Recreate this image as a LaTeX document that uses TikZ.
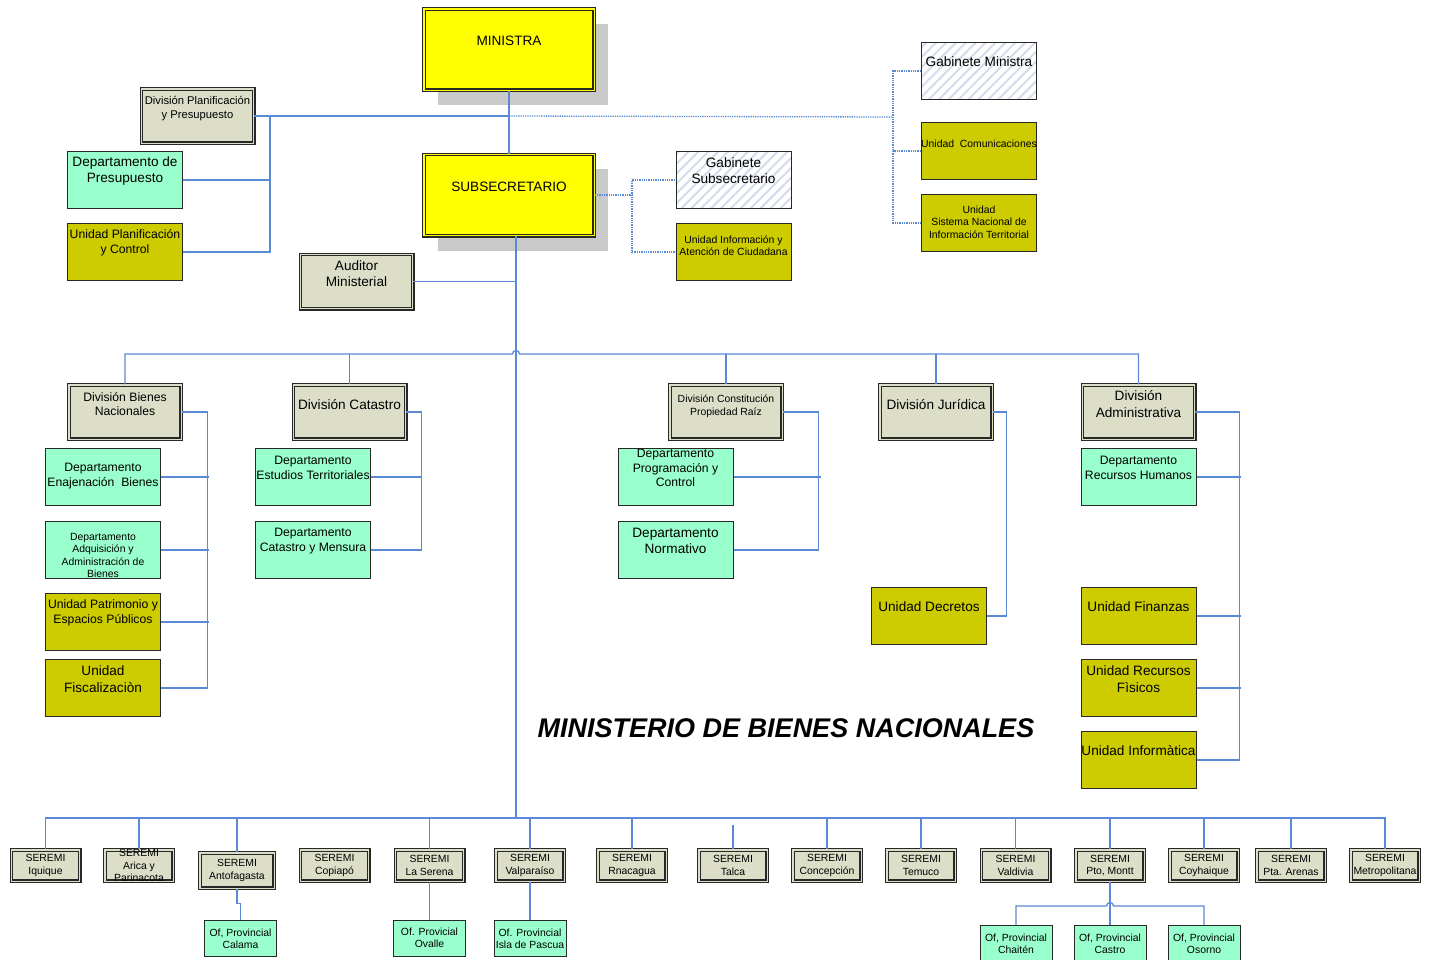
\documentclass[tikz,border=0pt]{standalone}
\usepackage{fontspec}
\setmainfont{Liberation Sans}
\usetikzlibrary{shadows,patterns.meta}

\definecolor{boxgray}{RGB}{220,222,200}
\definecolor{boxmint}{RGB}{153,255,204}
\definecolor{boxolive}{RGB}{204,204,0}
\definecolor{boxyellow}{RGB}{255,255,0}
\definecolor{linkblue}{RGB}{90,138,214}
\definecolor{hatchblue}{RGB}{212,220,236}
\definecolor{edge}{RGB}{40,40,40}

\begin{document}
\begin{tikzpicture}[x=1pt, y=-1pt,
    f10/.style={font=\fontsize{10.4}{12.3}\selectfont},
    f11/.style={font=\fontsize{11.2}{14}\selectfont},
    f12/.style={font=\fontsize{12.2}{14.5}\selectfont},
    f13/.style={font=\fontsize{13.6}{16.5}\selectfont},
    box/.style={rectangle, draw=edge, line width=1pt, minimum width=115pt, minimum height=57pt, inner sep=0pt},
    mintbox/.style={box, fill=boxmint},
    olivebox/.style={box, fill=boxolive},
    hatch/.style={box, preaction={fill=white}, pattern={Lines[angle=45, distance=7pt, line width=2pt]}, pattern color=hatchblue},
    divbox/.style={box, fill=boxgray, line width=1.1pt, double=boxgray, double distance=1.4pt, minimum width=112.4pt, minimum height=54.4pt},
    boss/.style={divbox, fill=boxyellow, double=boxyellow, minimum width=170.4pt, minimum height=81.4pt,
      drop shadow={shadow xshift=14pt, shadow yshift=-15pt, fill=black!21, opacity=1}},
    seremi/.style={divbox, minimum width=68.4pt, minimum height=31.4pt},
    ofprov/.style={mintbox, minimum width=72pt, minimum height=36pt},
    lbl/.style={align=center, anchor=center, yshift=-20pt},
    ctxt/.style={align=center, anchor=center, f10},
    link/.style={draw=linkblue, line width=1.3pt},
    dlink/.style={link, densely dotted}]

  \useasboundingbox (0,0) rectangle (1434,959);

  % autoridades
  \node[boss, label={[lbl,f13,yshift=-13pt]north:MINISTRA}] (minis) at (509,49.5) {};
  \node[boss, label={[lbl,f13,yshift=-13pt]north:SUBSECRETARIO}] (subse) at (509,195) {};
  \node[divbox, label={[lbl,f11]north:División Planificación\\y Presupuesto}] (divplan) at (197.5,116) {};
  \node[mintbox, label={[lbl,f13]north:Departamento de\\Presupuesto}] (deppres) at (125,180) {};
  \node[olivebox, label={[lbl,f12]north:Unidad Planificación\\y Control}] (uniplan) at (125,252) {};
  \node[divbox, label={[lbl,f13]north:Auditor\\Ministerial}] (auditor) at (356.5,281.5) {};
  \node[hatch, label={[lbl,f13]north:Gabinete\\Subsecretario}] (gabsub) at (733.5,180) {};
  \node[olivebox, label={[lbl,f10,yshift=-3pt]north:Unidad Información y\\Atención de Ciudadana}] (uniaten) at (733.5,252) {};
  \node[hatch, label={[lbl,f13]north:Gabinete Ministra}] (gabmin) at (979,71) {};
  \node[olivebox, label={[lbl,f10,yshift=-2pt]north:Unidad~~Comunicaciones}] (unicom) at (979,151) {};
  \node[olivebox, label={[lbl,f10,yshift=-8pt]north:Unidad\\Sistema Nacional de\\Información Territorial}] (unisnit) at (979,223) {};

  % divisiones
  \node[divbox, label={[lbl,f12]north:División Bienes\\Nacionales}] (divbn) at (125,412) {};
  \node[divbox, label={[lbl,f13]north:División Catastro}] (divcat) at (349.5,412) {};
  \node[divbox, label={[lbl,f10,yshift=-2pt]north:División Constitución\\Propiedad Raíz}] (divcpr) at (726,412) {};
  \node[divbox, label={[lbl,f13]north:División Jurídica}] (divjur) at (936,412) {};
  \node[divbox, label={[lbl,f13]north:División\\Administrativa}] (divadm) at (1138.5,412) {};

  \node[mintbox, label={[lbl,f12,yshift=-8pt]north:Departamento\\Enajenación~~Bienes}] (depena) at (103,477) {};
  \node[mintbox, label={[lbl,f10,yshift=-14.5pt]north:Departamento\\Adquisición y\\Administración de\\Bienes}] (depadq) at (103,550) {};
  \node[olivebox, label={[lbl,f12]north:Unidad Patrimonio y\\Espacios Públicos}] (unipat) at (103,622) {};
  \node[olivebox, label={[lbl,f13]north:Unidad\\Fiscalizaciòn}] (unifis) at (103,688) {};
  \node[mintbox, label={[lbl,f12]north:Departamento\\Estudios Territoriales}] (depest) at (313,477) {};
  \node[mintbox, label={[lbl,f12]north:Departamento\\Catastro y Mensura}] (depcym) at (313,550) {};
  \node[mintbox, label={[lbl,f12]north:Departamento\\Programación y\\Control}] (depprog) at (675.5,477) {};
  \node[mintbox, label={[lbl,f13]north:Departamento\\Normativo}] (depnor) at (675.5,550) {};
  \node[olivebox, label={[lbl,f13]north:Unidad Decretos}] (unidec) at (929,616) {};
  \node[mintbox, label={[lbl,f12]north:Departamento\\Recursos Humanos}] (deprh) at (1138.5,477) {};
  \node[olivebox, label={[lbl,f13]north:Unidad Finanzas}] (unifin) at (1138.5,616) {};
  \node[olivebox, label={[lbl,f13]north:Unidad Recursos\\Fìsicos}] (unirf) at (1138.5,688) {};
  \node[olivebox, label={[lbl,f13]north:Unidad Informàtica}] (uniinf) at (1138.5,760) {};

  \node[font=\bfseries\itshape\fontsize{27}{30}\selectfont] (title) at (786,728) {MINISTERIO DE BIENES NACIONALES};

  % seremis
  \foreach \n/\x/\t in {seriqu/45.5/Iquique, serari/139/{Arica y\\Parinacota}, sercop/334.5/Copiapó,
      serlas/429.5/La Serena, serval/530/Valparaíso, serran/632/Rnacagua, sertal/733/Talca,
      sercon/827/Concepción, sertem/921/Temuco, servld/1015.5/Valdivia, serpto/1110/{Pto, Montt},
      sercoy/1204/Coyhaique, serpta/1291/Pta. Arenas, sermet/1385/Metropolitana}
    \node[seremi, label={[ctxt]center:SEREMI\\\t}] (\n) at (\x,865.5) {};
  \node[seremi, minimum width=74.4pt, minimum height=35.4pt, label={[ctxt]center:SEREMI\\Antofagasta}] (serant) at (237,870.5) {};

  \node[ofprov, label={[ctxt]center:Of, Provincial\\Calama}] (ofcal) at (240.5,938.5) {};
  \node[ofprov, label={[ctxt]center:Of. Provicial\\Ovalle}] (ofova) at (429.5,938) {};
  \node[ofprov, label={[ctxt]center:Of. Provincial\\Isla de Pascua}] (ofisl) at (530,938.5) {};
  \node[ofprov, label={[ctxt]center:Of, Provincial\\Chaitén}] (ofcha) at (1016,943.5) {};
  \node[ofprov, label={[ctxt]center:Of, Provincial\\Castro}] (ofcas) at (1110,943.5) {};
  \node[ofprov, label={[ctxt]center:Of, Provincial\\Osorno}] (ofoso) at (1204,943.5) {};

  % conectores
  \coordinate (pl) at (270,116);
  \coordinate (gm) at (893,117);
  \coordinate (gs) at (632,195);
  \coordinate (tk) at ([xshift=7pt]subse.south);
  \coordinate (bus) at (516,354);
  \coordinate (sbus) at (516,818);
  \coordinate (pbus) at (1110,906);

  \draw[link] (minis.south) -- (subse.north);
  \draw[link] (divplan.east) -- (divplan.east -| minis.south);
  \draw[link] (deppres.east) -| (pl);
  \draw[link] (uniplan.east) -| (pl);
  \draw[dlink] (divplan.east -| minis.south) -- (gm);
  \draw[dlink] (gabmin.west) -| (gm) |- (unisnit.west);
  \draw[dlink] (unicom.west) -- (unicom.west -| gm);
  \draw[dlink] (subse.east) -- (gs);
  \draw[dlink] (gabsub.west) -| (gs) |- (uniaten.west);
  \draw[link] (tk) -- (sbus);
  \draw[link] (auditor.east) -- (auditor.east -| tk);

  \draw[link] (divbn.north) |- ([xshift=-3.5pt]bus) arc[start angle=180, end angle=0, radius=3.5pt]
    -| (divadm.north);
  \foreach \d in {divcat,divcpr,divjur}
    \draw[link] (\d.north) -- (\d.north |- bus);

  \draw[link] (divbn.east) -- ++(26,0) |- (unifis.east);
  \foreach \c in {depena,depadq,unipat}
    \draw[link] (\c.east) -- ++(48,0);
  \draw[link] (divcat.east) -- ++(15,0) |- (depcym.east);
  \draw[link] (depest.east) -- ++(51,0);
  \draw[link] (divcpr.east) -- ++(36,0) |- (depnor.east);
  \draw[link] (depprog.east) -- ++(87,0);
  \draw[link] (divjur.east) -- ++(14,0) |- (unidec.east);
  \draw[link] (divadm.east) -- ++(44,0) |- (uniinf.east);
  \foreach \c in {deprh,unifin,unirf}
    \draw[link] (\c.east) -- ++(44,0);

  \draw[link] (seriqu.north) |- (sbus) -| (sermet.north);
  \foreach \s in {serari,serant,serlas,serval,serran,sercon,sertem,servld,serpto,sercoy,serpta}
    \draw[link] (\s.north) -- (\s.north |- sbus);
  \draw[link] (sertal.north) -- ++(0,-24);

  \draw[link] (serant.south) -- ++(0,15) -| (ofcal.north);
  \draw[link] (serlas.south) -- (ofova.north);
  \draw[link] (serval.south) -- (ofisl.north);
  \draw[link] (serpto.south) -- (ofcas.north);
  \draw[link] (ofcha.north) |- ([xshift=-3.5pt]pbus) arc[start angle=180, end angle=0, radius=3.5pt]
    -| (ofoso.north);
\end{tikzpicture}
\end{document}
